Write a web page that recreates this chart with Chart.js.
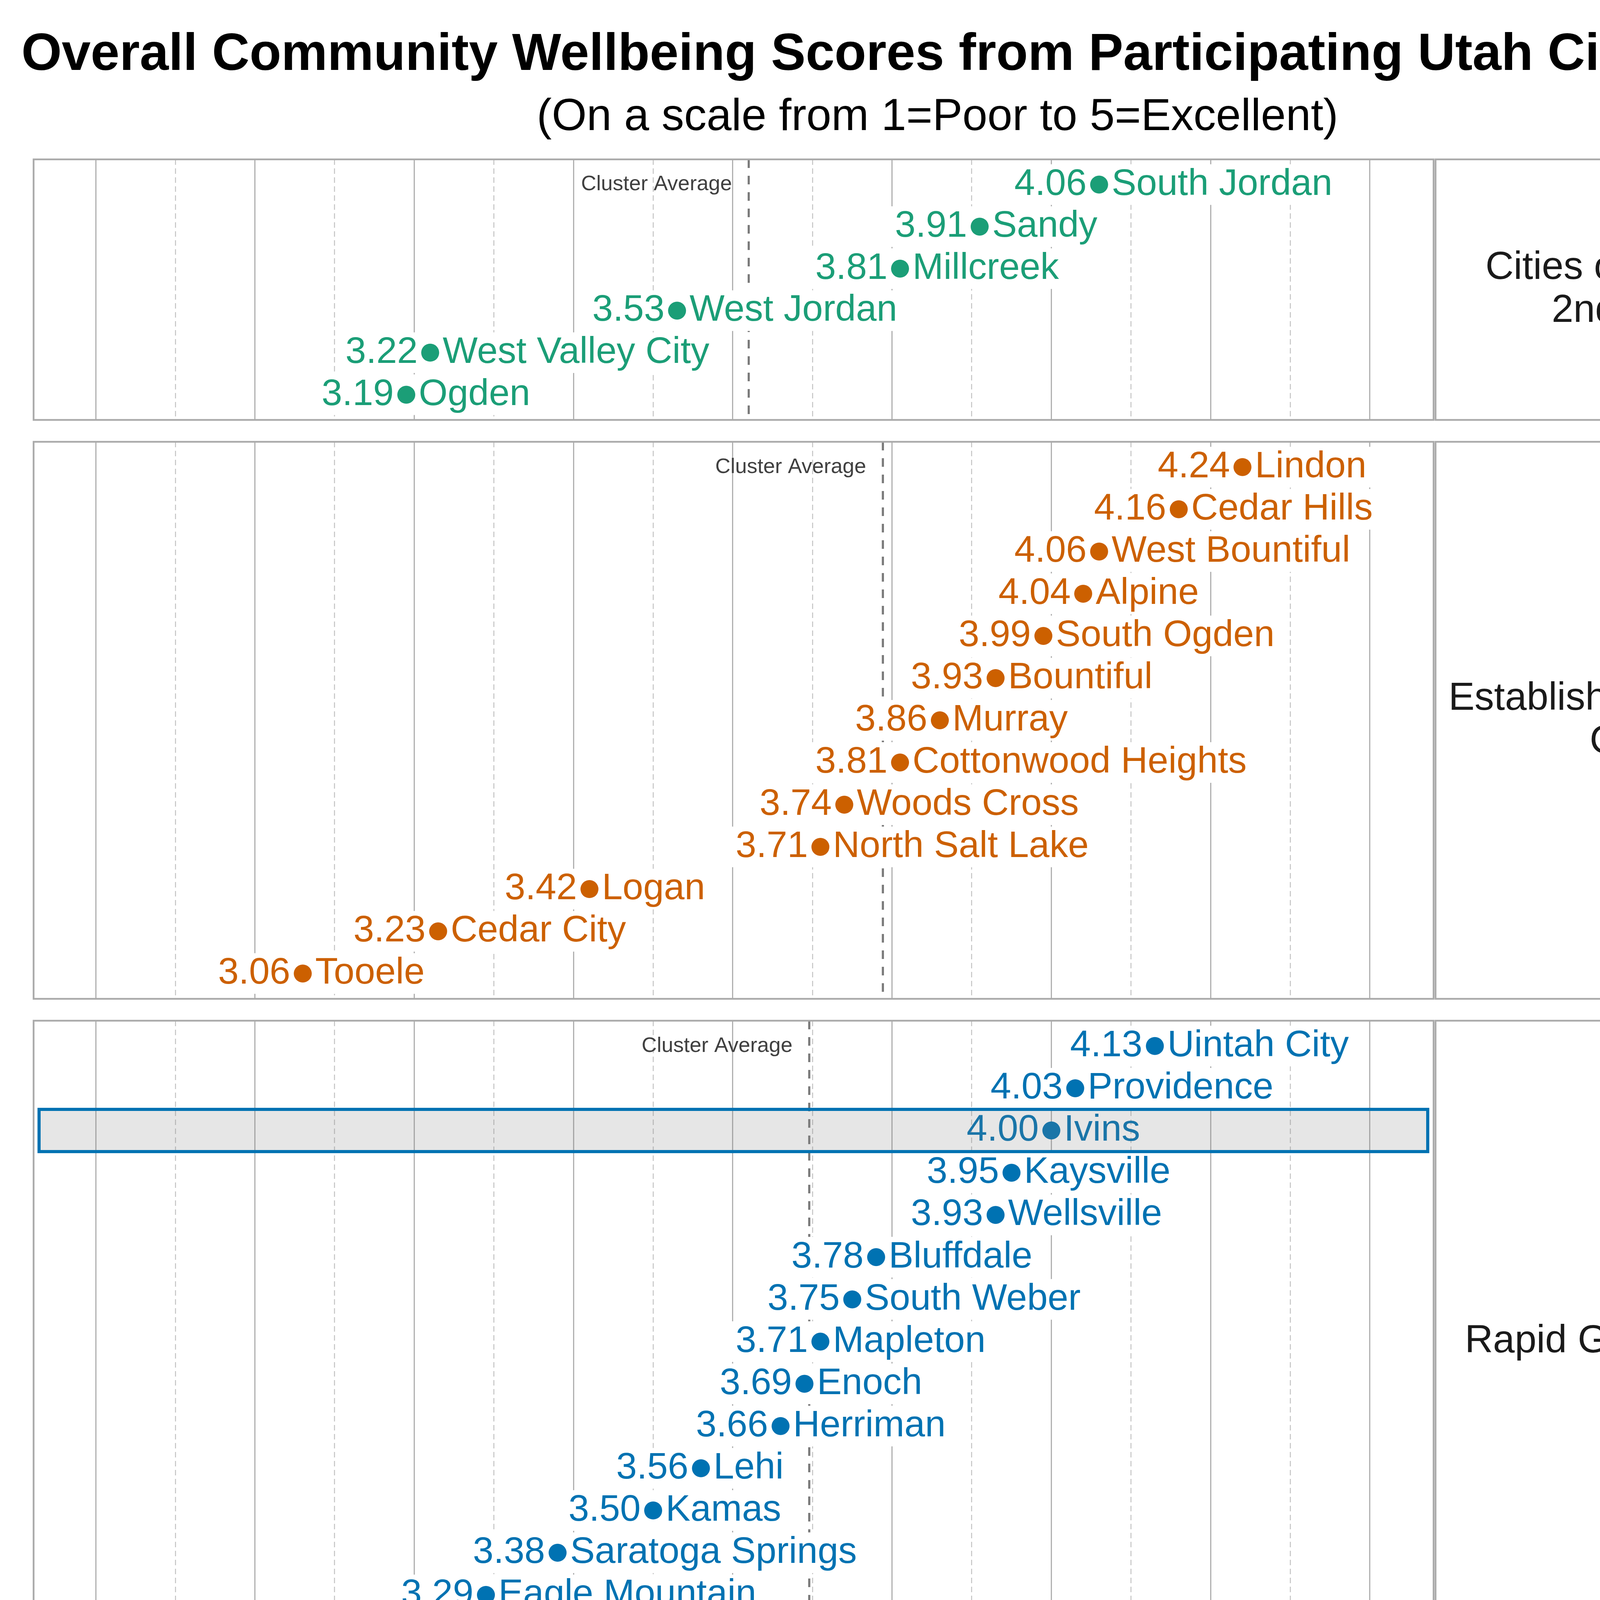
<!DOCTYPE html>
<html>
<head>
<meta charset="utf-8">
<title>Overall Community Wellbeing Scores</title>
<script src="https://cdn.jsdelivr.net/npm/chart.js@4.4.1/dist/chart.umd.min.js"></script>
<style>
  body { margin: 0; background: #fff; font-family: 'Liberation Sans', Arial, sans-serif; }
  #page { position: relative; width: 4800px; height: 7200px; overflow: hidden; background: #fff; }
  .title { position: absolute; left: 0; width: 4800px; text-align: center; color: #000; white-space: nowrap; }
  #title { top: 67px; font-size: 133px; line-height: 133px; font-weight: bold; }
  #subtitle { top: 236px; font-size: 115px; line-height: 115px; }
  canvas { position: absolute; left: 0; }
</style>
</head>
<body>
<div id="page">
  <div id="title" class="title">Overall Community Wellbeing Scores from Participating Utah Cities (2026)</div>
  <div id="subtitle" class="title">(On a scale from 1=Poor to 5=Excellent)</div>
</div>
<script>
const FONT = "'Liberation Sans', Arial, sans-serif";

// Clusters (facet labels, split on two lines like the strip)
const clusterLabelLines = [
    ['Cities of the 1st &', '2nd Class'],
    ['Established/Mid-sized', 'Cities'],
    ['Rapid Growth Cities'],
    ['Rural Hub/Resort', 'Communities'],
    ['Traditional Rural', 'Communities']
];
const clusterColors = ['#1b9e77', '#cc6000', '#0072b2', '#b2182b', '#6a3d9a'];

// Cities and average scores, per cluster
const firstClassCities = ['South Jordan', 'Sandy', 'Millcreek', 'West Jordan', 'West Valley City', 'Ogden'];
const firstClassScores = [4.06, 3.91, 3.81, 3.53, 3.22, 3.19];

const midSizedCities = ['Lindon', 'Cedar Hills', 'West Bountiful', 'Alpine', 'South Ogden', 'Bountiful', 'Murray',
    'Cottonwood Heights', 'Woods Cross', 'North Salt Lake', 'Logan', 'Cedar City', 'Tooele'];
const midSizedScores = [4.24, 4.16, 4.06, 4.04, 3.99, 3.93, 3.86, 3.81, 3.74, 3.71, 3.42, 3.23, 3.06];

const rapidGrowthCities = ['Uintah City', 'Providence', 'Ivins', 'Kaysville', 'Wellsville', 'Bluffdale', 'South Weber',
    'Mapleton', 'Enoch', 'Herriman', 'Lehi', 'Kamas', 'Saratoga Springs', 'Eagle Mountain', 'Grantsville'];
const rapidGrowthScores = [4.13, 4.03, 4.00, 3.95, 3.93, 3.78, 3.75, 3.71, 3.69, 3.66, 3.56, 3.50, 3.38, 3.29, 3.08];

const ruralHubCities = ['Midway', 'Alta', 'Morgan', 'Bluff', 'Springdale', 'Richfield', 'Heber', 'Nephi', 'Manila',
    'Blanding', 'Vernal', 'Moab', 'Tremonton', 'Wendover'];
const ruralHubScores = [4.24, 4.15, 3.89, 3.80, 3.71, 3.57, 3.51, 3.51, 3.51, 3.33, 3.21, 3.12, 2.94, 2.92];

const traditionalRuralCities = ['Mayfield', 'Lewiston', 'Toquerville', 'Ferron', 'Orangeville', 'Lake Point', 'La Verkin',
    'Delta', 'Stockton'];
const traditionalRuralScores = [4.08, 3.99, 3.83, 3.76, 3.72, 3.62, 3.57, 3.35, 3.30];

// x axis
const xMin = 2.722;
const xMax = 4.48;
const gridValues = [2.8, 2.9, 3.0, 3.1, 3.2, 3.3, 3.4, 3.5, 3.6, 3.7, 3.8, 3.9, 4.0, 4.1, 4.2, 4.3, 4.4];
const xTickLabels = ['2.8', '3.0', '3.2', '3.4', '3.6', '3.8', '4.0', '4.2', '4.4'];
const highlightCity = 'Ivins';

// layout, px
const ROW = 108.5, ROW_PAD = 0.6, PANEL_TOP = 405, PANEL_GAP = 50, MARGIN = 20;
const PLOT_LEFT = 86, PLOT_RIGHT = 3670, STRIP_RIGHT = 4714, AXIS_H = 230, LABEL_GAP = 32;

const clusters = [
    { cities: firstClassCities, scores: firstClassScores },
    { cities: midSizedCities, scores: midSizedScores },
    { cities: rapidGrowthCities, scores: rapidGrowthScores },
    { cities: ruralHubCities, scores: ruralHubScores },
    { cities: traditionalRuralCities, scores: traditionalRuralScores }
];

function isMajor(v) {
    return xTickLabels.includes(v.toFixed(1));
}

function mean(arr) {
    return arr.reduce((a, b) => a + b, 0) / arr.length;
}

// draws average line, labels, highlight, borders and the facet strip
function makePanelPlugin(cluster, color, lines) {
    const average = mean(cluster.scores);
    return {
        id: 'panelDecor',
        beforeDatasetsDraw(chart) {
            const { ctx, chartArea: ca, scales: { x, y } } = chart;
            ctx.save();
            const ax = x.getPixelForValue(average);
            ctx.strokeStyle = '#7a7a7a';
            ctx.lineWidth = 5.5;
            ctx.setLineDash([22, 20]);
            ctx.beginPath();
            ctx.moveTo(ax, ca.top);
            ctx.lineTo(ax, ca.bottom);
            ctx.stroke();
            ctx.setLineDash([]);

            ctx.font = '95px ' + FONT;
            ctx.textBaseline = 'middle';
            cluster.scores.forEach((s, i) => {
                const px = x.getPixelForValue(s);
                const py = y.getPixelForValue(i);
                const valTxt = s.toFixed(2);
                const name = cluster.cities[i];
                const vw = ctx.measureText(valTxt).width;
                const nw = ctx.measureText(name).width;
                if (name !== highlightCity) {
                    ctx.fillStyle = '#ffffff';
                    ctx.fillRect(px - LABEL_GAP - vw - 18, py - 52, vw + nw + 2 * LABEL_GAP + 36, 104);
                }
                ctx.fillStyle = color;
                ctx.textAlign = 'right';
                ctx.fillText(valTxt, px - LABEL_GAP, py);
                ctx.textAlign = 'left';
                ctx.fillText(name, px + LABEL_GAP, py);
            });
            ctx.restore();
        },
        afterDatasetsDraw(chart) {
            const { ctx, chartArea: ca, scales: { x, y } } = chart;
            ctx.save();

            // highlighted row
            const hi = cluster.cities.indexOf(highlightCity);
            if (hi >= 0) {
                const top = y.getPixelForValue(hi - 0.5);
                const bot = y.getPixelForValue(hi + 0.5);
                ctx.fillStyle = 'rgba(128,128,128,0.2)';
                ctx.fillRect(ca.left + 14, top, ca.width - 29, bot - top);
                ctx.strokeStyle = color;
                ctx.lineWidth = 8;
                ctx.strokeRect(ca.left + 14, top, ca.width - 29, bot - top);
            }

            // cluster average caption
            const ax = x.getPixelForValue(average);
            ctx.font = '54px ' + FONT;
            ctx.fillStyle = '#404040';
            ctx.textAlign = 'right';
            ctx.textBaseline = 'middle';
            ctx.fillText('Cluster Average', ax - 43, y.getPixelForValue(0));

            // panel and strip borders
            ctx.strokeStyle = '#aaaaaa';
            ctx.lineWidth = 4.5;
            ctx.strokeRect(ca.left, ca.top, ca.width, ca.height);
            ctx.strokeRect(ca.right + 5, ca.top, STRIP_RIGHT - ca.right - 5, ca.height);

            // facet label
            ctx.font = '100px ' + FONT;
            ctx.fillStyle = '#1a1a1a';
            ctx.textAlign = 'center';
            const cx = (ca.right + 5 + STRIP_RIGHT) / 2;
            const cy = (ca.top + ca.bottom) / 2;
            lines.forEach((t, k) => {
                ctx.fillText(t, cx, cy + (k - (lines.length - 1) / 2) * 110);
            });
            ctx.restore();
        }
    };
}

const page = document.getElementById('page');
let panelTop = PANEL_TOP;

clusters.forEach((cluster, idx) => {
    const n = cluster.scores.length;
    const isLast = idx === clusters.length - 1;
    const panelH = (n - 1 + 2 * ROW_PAD) * ROW;
    const canvas = document.createElement('canvas');
    canvas.width = 4800;
    canvas.height = Math.round(MARGIN + panelH + (isLast ? AXIS_H : MARGIN));
    canvas.style.top = Math.round(panelTop - MARGIN) + 'px';
    page.appendChild(canvas);

    new Chart(canvas, {
        type: 'scatter',
        data: {
            datasets: [{
                data: cluster.scores.map((s, i) => ({ x: s, y: i })),
                backgroundColor: clusterColors[idx],
                borderWidth: 0,
                pointRadius: 23,
                pointHoverRadius: 23
            }]
        },
        options: {
            responsive: false,
            devicePixelRatio: 1,
            animation: false,
            events: [],
            layout: {
                padding: { left: PLOT_LEFT, right: 4800 - PLOT_RIGHT, top: MARGIN, bottom: isLast ? 0 : MARGIN }
            },
            plugins: {
                legend: { display: false },
                tooltip: { enabled: false }
            },
            scales: {
                x: {
                    type: 'linear',
                    min: xMin,
                    max: xMax,
                    afterBuildTicks: axis => { axis.ticks = gridValues.map(v => ({ value: v })); },
                    afterFit: axis => { axis.height = isLast ? AXIS_H : 0; },
                    grid: {
                        drawTicks: false,
                        color: c => (c.tick && !isMajor(c.tick.value)) ? '#c4c4c4' : '#b0b0b0',
                        lineWidth: c => (c.tick && !isMajor(c.tick.value)) ? 2.5 : 3
                    },
                    border: {
                        display: false,
                        dash: c => (c.tick && !isMajor(c.tick.value)) ? [14, 9] : []
                    },
                    ticks: {
                        display: isLast,
                        autoSkip: false,
                        maxRotation: 0,
                        padding: 10,
                        color: '#000',
                        font: { family: FONT, size: 78 },
                        callback: v => isMajor(v) ? v.toFixed(1) : ''
                    },
                    title: {
                        display: isLast,
                        text: 'Average Score',
                        color: '#000',
                        font: { family: FONT, size: 83 },
                        padding: { top: 0, bottom: 9 }
                    }
                },
                y: {
                    type: 'linear',
                    display: false,
                    reverse: true,
                    min: -ROW_PAD,
                    max: n - 1 + ROW_PAD
                }
            }
        },
        plugins: [makePanelPlugin(cluster, clusterColors[idx], clusterLabelLines[idx])]
    });

    panelTop += panelH + PANEL_GAP;
});
</script>
</body>
</html>
